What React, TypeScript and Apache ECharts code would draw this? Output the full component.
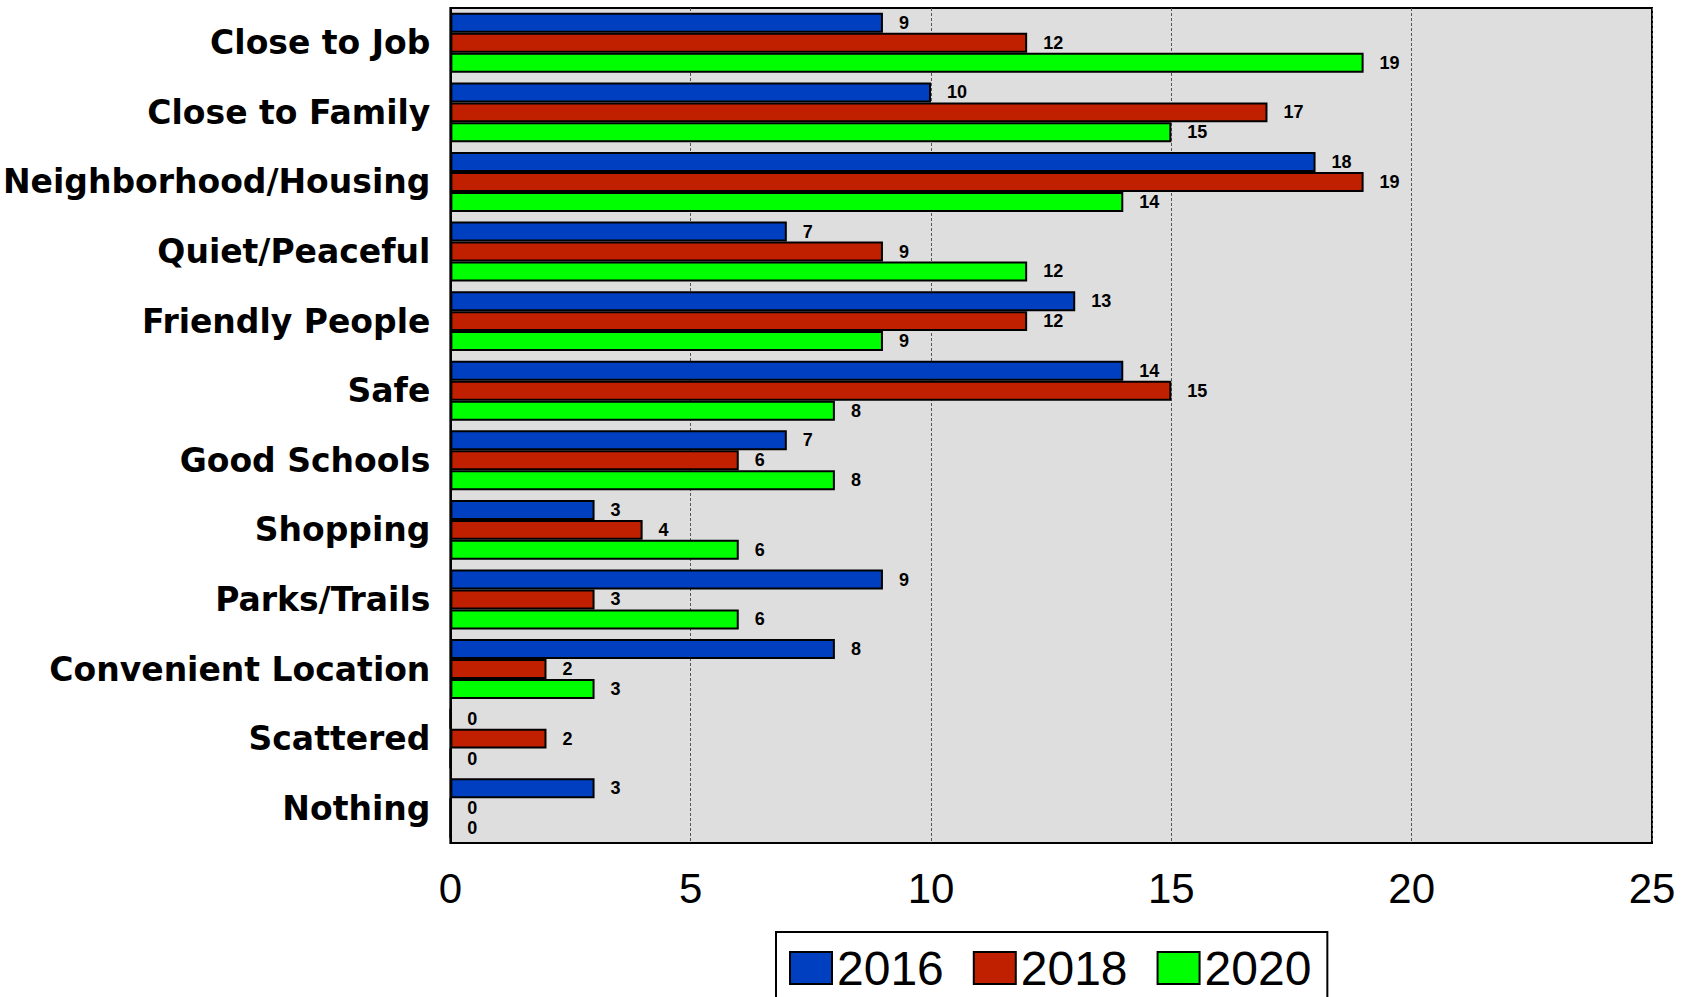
import React, { useEffect, useRef } from "react";
import * as echarts from "echarts";

const categories = [
  "Close to Job",
  "Close to Family",
  "Neighborhood/Housing",
  "Quiet/Peaceful",
  "Friendly People",
  "Safe",
  "Good Schools",
  "Shopping",
  "Parks/Trails",
  "Convenient Location",
  "Scattered",
  "Nothing",
];
const values2016 = [9, 10, 18, 7, 13, 14, 7, 3, 9, 8, 0, 3];
const values2018 = [12, 17, 19, 9, 12, 15, 6, 4, 3, 2, 2, 0];
const values2020 = [19, 15, 14, 12, 9, 8, 8, 6, 6, 3, 0, 0];
const seriesNames = ["2016", "2018", "2020"];
const seriesColors = ["#0040C0", "#C02000", "#00FF00"];
const xTicks = [0, 5, 10, 15, 20, 25];

const FONT = "'Liberation Sans', Arial, sans-serif";
const CAT_FONT = "'DejaVu Sans', 'Liberation Sans', Arial, sans-serif";

export default function App() {
  const ref = useRef<HTMLDivElement>(null);
  useEffect(() => {
    if (!ref.current) return;
    const chart = echarts.init(ref.current, undefined, { renderer: "svg" });
    const data = [values2016, values2018, values2020];
    chart.setOption({
      animation: false,
      textStyle: { fontFamily: FONT },
      grid: {
        left: 450,
        right: 40,
        top: 8,
        bottom: 154,
        show: true,
        backgroundColor: "#DEDEDE",
        borderColor: "#000",
        borderWidth: 2,
      },
      legend: {
        left: 776,
        top: 932,
        orient: "horizontal",
        icon: "rect",
        backgroundColor: "#fff",
        borderColor: "#000",
        borderWidth: 2,
        borderRadius: 0,
        padding: [12, 16, 40, 13],
        itemGap: 29,
        itemWidth: 42,
        itemHeight: 32,
        textStyle: { fontSize: 48, color: "#000", fontFamily: FONT },
        data: seriesNames,
      },
      xAxis: {
        type: "value",
        min: xTicks[0],
        max: xTicks[xTicks.length - 1],
        interval: 5,
        axisLine: { show: false },
        axisTick: { show: false },
        axisLabel: { fontSize: 42, color: "#000", margin: 24, fontFamily: FONT },
        splitLine: { show: true, lineStyle: { color: "#555", type: [3, 2], width: 1 } },
      },
      yAxis: {
        type: "category",
        inverse: true,
        data: categories,
        axisLine: { show: true, lineStyle: { color: "#000", width: 2 } },
        axisTick: { show: false },
        axisLabel: {
          fontSize: 33,
          fontWeight: "bold",
          color: "#000",
          margin: 20,
          fontFamily: CAT_FONT,
        },
      },
      series: seriesNames.map((name, i) => ({
        name,
        type: "bar",
        data: data[i],
        barCategoryGap: "14%",
        barGap: "0%",
        itemStyle: { color: seriesColors[i], borderColor: "#000", borderWidth: 2 },
        label: {
          show: true,
          position: "right",
          distance: 16,
          fontSize: 18,
          fontWeight: "bold",
          color: "#000",
          fontFamily: FONT,
        },
      })),
    });
    return () => chart.dispose();
  }, []);
  return <div ref={ref} style={{ width: 1692, height: 997, position: "absolute", left: 0, top: 0 }} />;
}
